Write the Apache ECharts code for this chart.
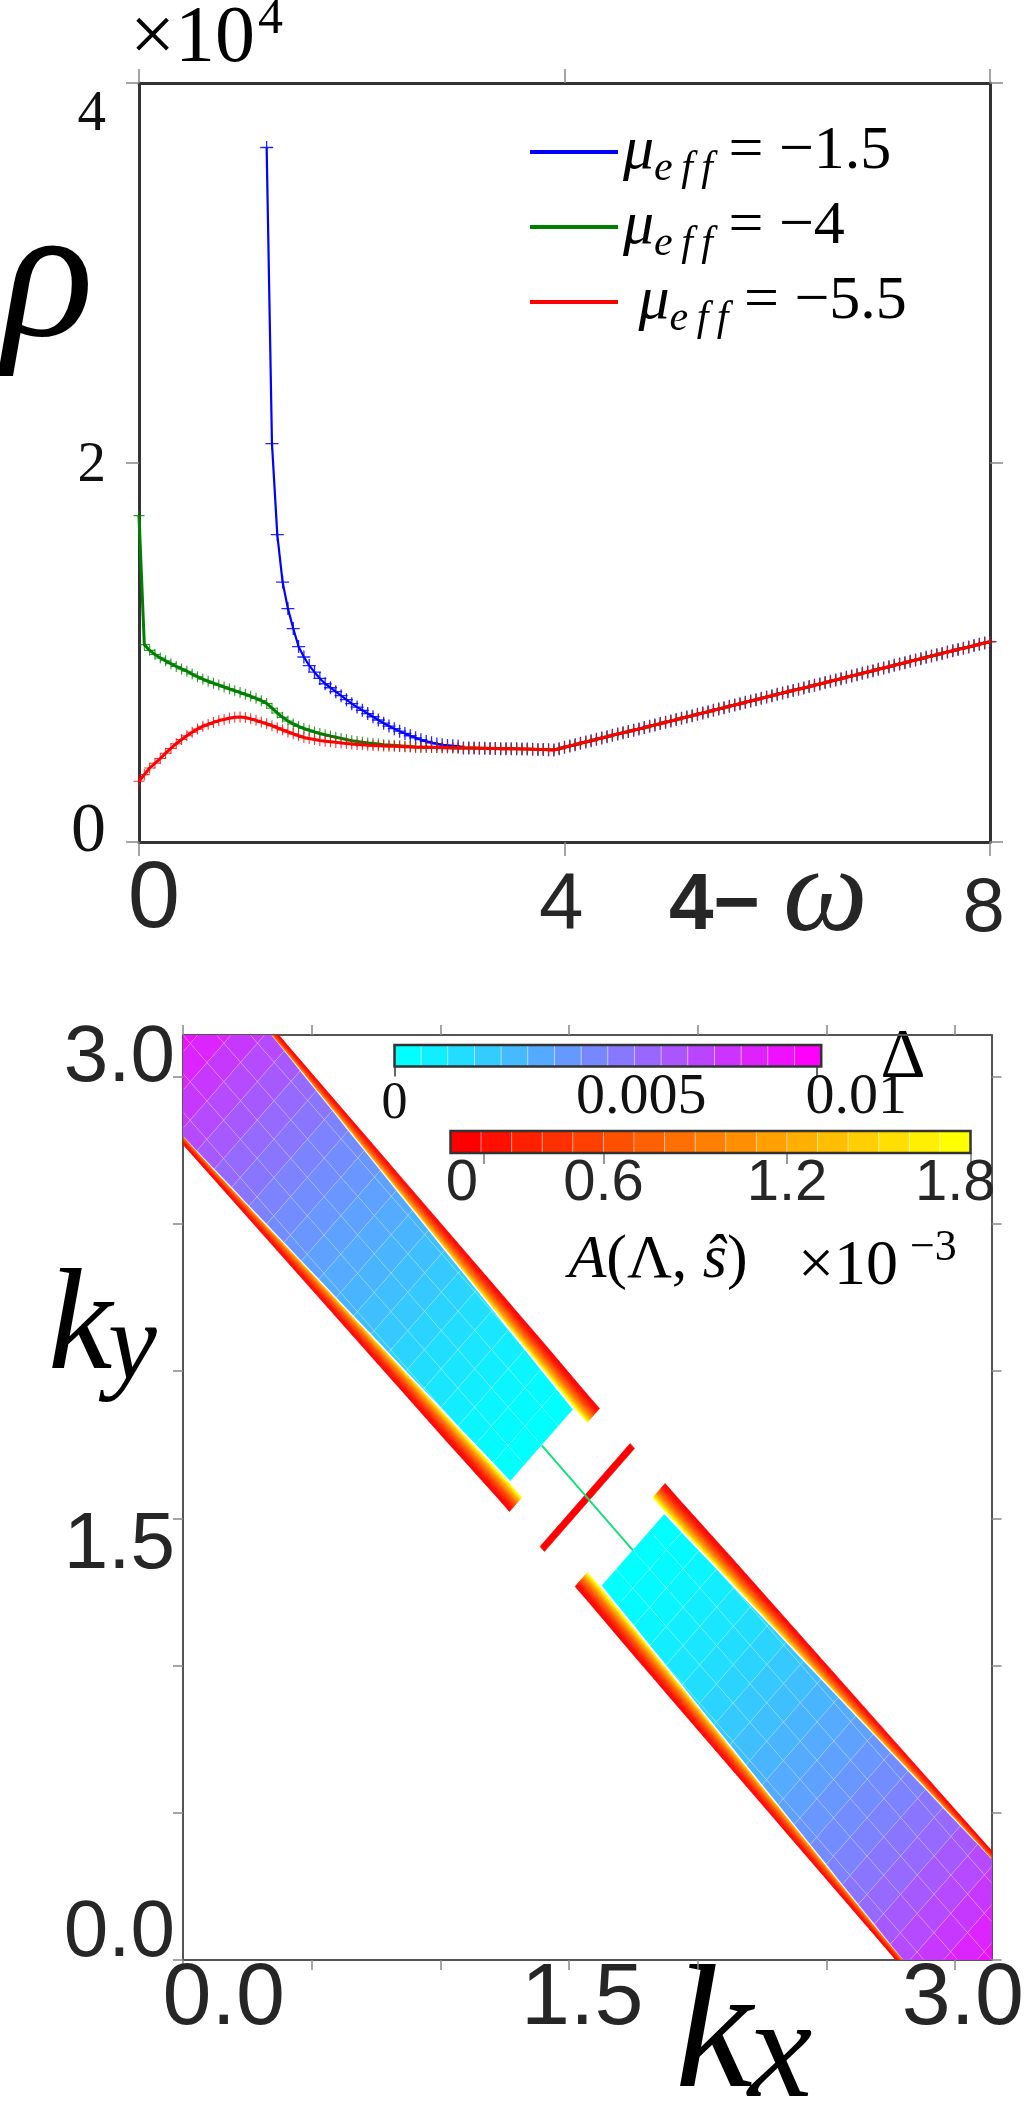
<!DOCTYPE html>
<html>
<head>
<meta charset="utf-8">
<script src="https://cdn.jsdelivr.net/npm/echarts@6/dist/echarts.min.js"></script>
<style>
  html, body { margin: 0; padding: 0; background: #fff; }
  #chart { width: 1027px; height: 2101px; }
</style>
</head>
<body>
<div id="chart"></div>
<script>
  // ---- top panel: rho(4-omega), values in units of 1e4, sampled every 0.05 ----
  const STEP = 0.05;
  const TAIL_START = 3.05;
  const redStart = 0;
  const redHead = [0.320, 0.355, 0.390, 0.415, 0.440, 0.468, 0.493, 0.518, 0.540, 0.560,
    0.578, 0.595, 0.610, 0.620, 0.630, 0.640, 0.646, 0.652, 0.657, 0.659,
    0.656, 0.649, 0.641, 0.632, 0.623, 0.613, 0.602, 0.591, 0.580, 0.570,
    0.560, 0.551, 0.545, 0.540, 0.535, 0.531, 0.528, 0.525, 0.522, 0.519,
    0.516, 0.514, 0.512, 0.510, 0.509, 0.507, 0.506, 0.505, 0.504, 0.503,
    0.502, 0.501, 0.500, 0.500, 0.499, 0.499, 0.498, 0.498, 0.497, 0.497, 0.496];
  const greenStart = 0;
  const greenHead = [1.72, 1.04, 1.01, 0.988, 0.970, 0.955, 0.940, 0.925, 0.912, 0.900,
    0.885, 0.871, 0.858, 0.847, 0.837, 0.827, 0.817, 0.807, 0.797, 0.788,
    0.778, 0.768, 0.757, 0.745, 0.730, 0.705, 0.680, 0.657, 0.638, 0.622,
    0.609, 0.598, 0.589, 0.580, 0.572, 0.565, 0.558, 0.552, 0.546, 0.540,
    0.534, 0.530, 0.526, 0.522, 0.519, 0.516, 0.513, 0.511, 0.509, 0.507,
    0.505, 0.503, 0.501, 0.500, 0.499, 0.498, 0.498, 0.497, 0.497, 0.496, 0.496];
  const blueStart = 1.2;
  const blueHead = [3.66, 2.10, 1.62, 1.37, 1.23, 1.125, 1.03, 0.975, 0.930, 0.895,
    0.862, 0.834, 0.813, 0.792, 0.771, 0.750, 0.729, 0.711, 0.694, 0.677,
    0.660, 0.643, 0.626, 0.611, 0.597, 0.584, 0.572, 0.560, 0.549, 0.539,
    0.530, 0.523, 0.517, 0.512, 0.509, 0.507, 0.505];
  // all three curves coincide from 3.05 to 8
  const sharedTail = [0.496, 0.495, 0.495, 0.494, 0.494, 0.493, 0.493, 0.492, 0.492, 0.491,
    0.491, 0.490, 0.490, 0.489, 0.488, 0.487, 0.486, 0.485,
    0.492, 0.499, 0.506, 0.513, 0.520, 0.527, 0.534, 0.541, 0.548, 0.555,
    0.562, 0.569, 0.576, 0.582, 0.589, 0.596, 0.603, 0.610, 0.617, 0.624,
    0.631, 0.638, 0.645, 0.652, 0.659, 0.666, 0.673, 0.680, 0.687, 0.694,
    0.701, 0.708, 0.715, 0.722, 0.729, 0.736, 0.743, 0.750, 0.757, 0.764,
    0.771, 0.778, 0.785, 0.792, 0.799, 0.805, 0.812, 0.819, 0.826, 0.833,
    0.840, 0.847, 0.854, 0.861, 0.868, 0.875, 0.882, 0.889, 0.896, 0.903,
    0.910, 0.917, 0.924, 0.931, 0.938, 0.945, 0.952, 0.959, 0.966, 0.973,
    0.980, 0.987, 0.994, 1.001, 1.008, 1.015, 1.021, 1.028, 1.035, 1.042,
    1.049, 1.056];
  const seriesNames = ['mu15', 'mu4', 'mu55'];
  const legendValues = ['−1.5', '−4', '−5.5'];

  // ---- bottom panel: band around kx+ky=pi, in band coords p=kx-ky, q=kx+ky-pi ----
  const rowEdges = [0.355, 0.485, 0.615, 0.745, 0.875, 1.005, 1.135, 1.265, 1.395, 1.525,
    1.655, 1.785, 1.915, 2.045, 2.175, 2.305, 2.435, 2.565, 2.695, 2.825, 2.955, 3.085, 3.1416];
  const halfWidth = [0.243, 0.248, 0.253, 0.259, 0.264, 0.269, 0.275, 0.280, 0.285, 0.291,
    0.296, 0.301, 0.307, 0.312, 0.317, 0.323, 0.328, 0.333, 0.339, 0.344, 0.349, 0.355, 0.357];
  const deltaRows = [0.0000, 0.0002, 0.0004, 0.0007, 0.0010, 0.0013, 0.0017, 0.0021, 0.0025, 0.0029,
    0.0033, 0.0037, 0.0041, 0.0045, 0.0049, 0.0054, 0.0059, 0.0065, 0.0071, 0.0078, 0.0086, 0.0093];
  const qGrid = [-0.393, -0.262, -0.131, 0, 0.131, 0.262, 0.393];
  const stripeEdges = [0.255].concat(rowEdges);
  const stripeInner = [0.255, 0.255, 0.259, 0.264, 0.269, 0.274, 0.279, 0.284, 0.289, 0.294,
    0.299, 0.304, 0.309, 0.314, 0.319, 0.325, 0.330, 0.335, 0.340, 0.344, 0.346, 0.350, 0.355, 0.357];
  const stripeOuter = [0.350, 0.350, 0.352, 0.354, 0.356, 0.357, 0.358, 0.359, 0.360, 0.361,
    0.362, 0.363, 0.364, 0.365, 0.366, 0.367, 0.368, 0.369, 0.370, 0.371, 0.373, 0.376, 0.380, 0.382];
  const stripePeak = [1.8, 1.8, 1.75, 1.7, 1.65, 1.6, 1.55, 1.5, 1.45, 1.4, 1.35, 1.3,
    1.25, 1.2, 1.15, 1.1, 1.0, 0.95, 0.9, 0.85, 0.8, 0.75, 0.7];
  const stripeProfile = [1.0, 0.82, 0.66, 0.52, 0.40, 0.29, 0.19, 0.10, 0.03, 0];
  const nodeBar = [-0.017, 0.017, -0.35, 0.35, 0];   // p0, p1, q0, q1, A
  const nodeLine = [[1.394, 1.748], [1.748, 1.391]];

  // ---- colour bars ----
  const cbDeltaRange = [0, 0.0101];
  const cbDeltaLevels = [0, 0.00067, 0.00133, 0.002, 0.00267, 0.00333, 0.004, 0.00467,
    0.00533, 0.006, 0.00667, 0.00733, 0.008, 0.00867, 0.00933, 0.01];
  const cbARange = [0.1, 1.8];
  const cbALevels = [0, 0.1125, 0.225, 0.3375, 0.45, 0.5625, 0.675, 0.7875, 0.9,
    1.0125, 1.125, 1.2375, 1.35, 1.4625, 1.575, 1.6875, 1.8];

  const SERIF = 'Liberation Serif';
  const SANS = 'Liberation Sans';
  const INK = '#262626';

  function pairs(start, head) {
    const a = head.map((v, i) => [+(start + i * STEP).toFixed(2), v]);
    return a.concat(sharedTail.map((v, i) => [+(TAIL_START + i * STEP).toFixed(2), v]));
  }

  // build band cells
  const deltaCells = [];
  [-1, 1].forEach(side => {
    for (let i = 0; i < rowEdges.length - 1; i++) {
      const pa = side * rowEdges[i], pb = side * rowEdges[i + 1];
      const wa = halfWidth[i], wb = halfWidth[i + 1];
      for (let j = 0; j < qGrid.length - 1; j++) {
        const loA = Math.max(qGrid[j], -wa), hiA = Math.min(qGrid[j + 1], wa);
        const loB = Math.max(qGrid[j], -wb), hiB = Math.min(qGrid[j + 1], wb);
        if (hiA <= loA && hiB <= loB) continue;
        deltaCells.push([pa, pb, loA, loB, Math.max(hiA, loA), Math.max(hiB, loB), deltaRows[i]]);
      }
    }
  });
  const stripeCells = [];
  [-1, 1].forEach(side => {
    for (let i = 0; i < stripeEdges.length - 1; i++) {
      const pa = side * stripeEdges[i], pb = side * stripeEdges[i + 1];
      const K = stripeProfile.length;
      [-1, 1].forEach(face => {
        for (let k = 0; k < K; k++) {
          const qa0 = stripeInner[i] + (stripeOuter[i] - stripeInner[i]) * k / K;
          const qa1 = stripeInner[i] + (stripeOuter[i] - stripeInner[i]) * (k + 1) / K;
          const qb0 = stripeInner[i + 1] + (stripeOuter[i + 1] - stripeInner[i + 1]) * k / K;
          const qb1 = stripeInner[i + 1] + (stripeOuter[i + 1] - stripeInner[i + 1]) * (k + 1) / K;
          stripeCells.push([pa, pb, face * qa0, face * qb0, face * qa1, face * qb1,
            stripePeak[i] * stripeProfile[k]]);
        }
      });
    }
  });
  stripeCells.push([nodeBar[0], nodeBar[1], nodeBar[2], nodeBar[2], nodeBar[3], nodeBar[3], nodeBar[4]]);

  const cbDeltaCells = cbDeltaLevels.map((v, i) => {
    const w = (cbDeltaRange[1] - cbDeltaRange[0]) / cbDeltaLevels.length;
    return [cbDeltaRange[0] + i * w, cbDeltaRange[0] + (i + 1) * w, v];
  });
  const cbACells = cbALevels.map((v, i) => {
    const w = (cbARange[1] - cbARange[0]) / cbALevels.length;
    return [cbARange[0] + i * w, cbARange[0] + (i + 1) * w, v];
  });

  function bandItem(stroke) {
    return function (params, api) {
      const pt = (p, q) => api.coord([(p + q + Math.PI) / 2, (q - p + Math.PI) / 2]);
      const pa = api.value(0), pb = api.value(1);
      const color = api.visual('color');
      return {
        type: 'polygon',
        shape: { points: [pt(pa, api.value(2)), pt(pb, api.value(3)), pt(pb, api.value(5)), pt(pa, api.value(4))] },
        style: { fill: color, stroke: stroke || color, lineWidth: stroke ? 0.7 : 0.6 }
      };
    };
  }
  function cbItem(params, api) {
    const a = api.coord([api.value(0), 1]), b = api.coord([api.value(1), 0]);
    return {
      type: 'rect',
      shape: { x: a[0], y: a[1], width: b[0] - a[0], height: b[1] - a[1] },
      style: { fill: api.visual('color'), stroke: 'rgba(255,255,255,0.35)', lineWidth: 1 }
    };
  }
  function frameItem(params, api) {
    const a = api.coord([api.value(0), 1]), b = api.coord([api.value(1), 0]);
    return {
      type: 'rect',
      shape: { x: a[0], y: a[1], width: b[0] - a[0], height: b[1] - a[1] },
      style: { fill: 'rgba(0,0,0,0)', stroke: '#333', lineWidth: 2.5 }
    };
  }
  // title text helper (rich style so the font family is applied)
  function label(text, x, y, size, opts) {
    opts = opts || {};
    const color = opts.color || '#000';
    return { type: 'text', x: x, y: y, style: {
      text: '{a|' + text + '}',
      rich: { a: { fontSize: size, fontFamily: opts.family || SERIF, fontStyle: opts.italic ? 'italic' : 'normal',
        fontWeight: opts.bold ? 'bold' : 'normal', fill: color, color: color } },
      align: opts.align || 'left', verticalAlign: 'middle',
      textAlign: opts.align || 'left', textVerticalAlign: 'middle' } };
  }

  const boxLine = { show: true, onZero: false, lineStyle: { color: '#333', width: 3 } };
  const boxLine2 = { show: true, onZero: false, lineStyle: { color: '#555', width: 2 } };
  const tick = (len, vals) => ({ show: true, inside: false, length: len, customValues: vals,
    lineStyle: { color: '#888', width: 1.5 } });
  const noLabel = { show: false };
  const crossSymbol = 'path://M0,5.4H12V6.6H0Z M5.4,0H6.6V12H5.4Z';

  const chart = echarts.init(document.getElementById('chart'));
  chart.setOption({
    animation: false,
    backgroundColor: '#fff',
    grid: [
      { left: 139, top: 83, width: 851, height: 759 },
      { left: 183, top: 1035, width: 816, height: 925 },
      { left: 394.5, top: 1045, width: 507, height: 21.5 },
      { left: 450.5, top: 1131, width: 520, height: 22 }
    ],
    xAxis: [
      { gridIndex: 0, type: 'value', min: 0, max: 8, position: 'bottom', axisLine: boxLine,
        axisTick: tick(14, [0, 4, 8]), splitLine: { show: false },
        axisLabel: { customValues: [0.14, 3.97, 7.94], margin: 12, color: INK, fontFamily: SANS,
          formatter: v => { const n = Math.round(v / 4) * 4; return '{t' + n + '|' + n + '}'; },
          rich: { t0: { fontSize: 94, fontFamily: SANS, color: INK },
                  t4: { fontSize: 80, fontFamily: SANS, color: INK, padding: [12, 0, 0, 0] },
                  t8: { fontSize: 76, fontFamily: SANS, color: INK, padding: [18, 0, 0, 0] } } } },
      { gridIndex: 0, type: 'value', min: 0, max: 8, position: 'top', axisLine: boxLine,
        axisTick: tick(14, [0, 4, 8]), splitLine: { show: false }, axisLabel: noLabel },
      { gridIndex: 1, type: 'value', min: 0, max: Math.PI, position: 'bottom', axisLine: boxLine2,
        axisTick: tick(10, [0, 0.5, 1, 1.5, 2, 2.5, 3]), splitLine: { show: false },
        axisLabel: { customValues: [0.158, 1.551, 3.03], margin: -4, color: INK, fontFamily: SANS, fontSize: 88,
          formatter: v => (Math.round(v / 1.5) * 1.5).toFixed(1) } },
      { gridIndex: 1, type: 'value', min: 0, max: Math.PI, position: 'top', axisLine: boxLine2,
        axisTick: tick(10, [0, 0.5, 1, 1.5, 2, 2.5, 3]), splitLine: { show: false }, axisLabel: noLabel },
      { gridIndex: 2, type: 'value', min: 0, max: 0.012, position: 'bottom', axisLine: { show: false },
        axisTick: { show: true, length: 10, customValues: [0, 0.01], lineStyle: { color: '#333', width: 1.5 } },
        splitLine: { show: false },
        axisLabel: { customValues: [0, 0.00584, 0.01093], margin: 2, color: '#111', fontFamily: SERIF,
          formatter: v => v < 0.001 ? '{s|0}' : (v < 0.008 ? '{b|0.005}' : '{b|0.01}'),
          rich: { s: { fontSize: 52, fontFamily: SERIF, color: '#111', padding: [10, 0, 0, 0] },
                  b: { fontSize: 58, fontFamily: SERIF, color: '#111' } } } },
      { gridIndex: 3, type: 'value', min: 0.1, max: 1.8, position: 'bottom', axisLine: { show: false },
        axisTick: { show: true, length: 11, customValues: [0.21, 0.6, 1.2, 1.8], lineStyle: { color: '#777', width: 1.5 } },
        splitLine: { show: false },
        axisLabel: { customValues: [0.137, 0.6, 1.2, 1.75], margin: 2, color: INK, fontFamily: SANS, fontSize: 58,
          formatter: v => v < 0.3 ? '0' : (v < 0.9 ? '0.6' : (v < 1.5 ? '1.2' : '1.8')) } }
    ],
    yAxis: [
      { gridIndex: 0, type: 'value', min: 0, max: 4, position: 'left', axisLine: boxLine,
        axisTick: tick(13, [0, 2, 4]), splitLine: { show: false },
        axisLabel: { customValues: [0.05, 1.98, 3.83], margin: 33, color: '#111', fontFamily: SERIF,
          formatter: v => { const n = Math.round(v / 2) * 2; return '{y' + n + '|' + n + '}'; },
          rich: { y0: { fontSize: 70, fontFamily: SERIF, color: '#111' },
                  y2: { fontSize: 57, fontFamily: SERIF, color: '#111' },
                  y4: { fontSize: 57, fontFamily: SERIF, color: '#111' } } } },
      { gridIndex: 0, type: 'value', min: 0, max: 4, position: 'right', axisLine: boxLine,
        axisTick: tick(13, [0, 2, 4]), splitLine: { show: false }, axisLabel: noLabel },
      { gridIndex: 1, type: 'value', min: 0, max: Math.PI, position: 'left', axisLine: boxLine2,
        axisTick: tick(10, [0, 0.5, 1, 1.5, 2, 2.5, 3]), splitLine: { show: false },
        axisLabel: { customValues: [0.088, 1.407, 3.06], margin: 8, color: INK, fontFamily: SANS, fontSize: 80,
          formatter: v => (Math.round(v / 1.5) * 1.5).toFixed(1) } },
      { gridIndex: 1, type: 'value', min: 0, max: Math.PI, position: 'right', axisLine: boxLine2,
        axisTick: tick(10, [0, 0.5, 1, 1.5, 2, 2.5, 3]), splitLine: { show: false }, axisLabel: noLabel },
      { gridIndex: 2, type: 'value', min: 0, max: 1, show: false },
      { gridIndex: 3, type: 'value', min: 0, max: 1, show: false }
    ],
    legend: {
      left: 525, top: 116, orient: 'vertical', icon: 'rect', itemWidth: 88, itemHeight: 4, itemGap: 6,
      selectedMode: false, data: seriesNames, itemStyle: { opacity: 1 },
      formatter: name => {
        const i = seriesNames.indexOf(name);
        return (i === 2 ? '{t| }' : '') + '{m|μ}{s|e\u2009f\u2009f}{t| = ' + legendValues[i] + '}';
      },
      textStyle: {
        fontFamily: SERIF,
        rich: {
          m: { fontFamily: SERIF, fontStyle: 'italic', fontSize: 62, lineHeight: 76, color: '#000', verticalAlign: 'middle' },
          s: { fontFamily: SERIF, fontStyle: 'italic', fontSize: 42, lineHeight: 46, color: '#000', verticalAlign: 'bottom' },
          t: { fontFamily: SERIF, fontSize: 62, lineHeight: 76, color: '#000', verticalAlign: 'middle' }
        }
      }
    },
    visualMap: [
      { type: 'continuous', show: false, seriesIndex: 3, dimension: 6, min: 0, max: 0.01,
        inRange: { color: ['#00ffff', '#ff00ff'] } },
      { type: 'continuous', show: false, seriesIndex: 4, dimension: 6, min: 0, max: 1.8,
        inRange: { color: ['#ff0000', '#ffff00'] } },
      { type: 'continuous', show: false, seriesIndex: 6, dimension: 2, min: 0, max: 0.01,
        inRange: { color: ['#00ffff', '#ff00ff'] } },
      { type: 'continuous', show: false, seriesIndex: 8, dimension: 2, min: 0, max: 1.8,
        inRange: { color: ['#ff0000', '#ffff00'] } }
    ],
    series: [
      { name: seriesNames[0], type: 'line', xAxisIndex: 0, yAxisIndex: 0, data: pairs(blueStart, blueHead),
        symbol: crossSymbol, symbolSize: 13, color: '#0000ff', lineStyle: { width: 2.2, color: '#0000ff' },
        itemStyle: { color: '#0000ff', opacity: 0.85 }, z: 2 },
      { name: seriesNames[1], type: 'line', xAxisIndex: 0, yAxisIndex: 0, data: pairs(greenStart, greenHead),
        symbol: crossSymbol, symbolSize: 11, color: '#008000', lineStyle: { width: 3, color: '#008000' },
        itemStyle: { color: '#008000', opacity: 0.8 }, z: 3 },
      { name: seriesNames[2], type: 'line', xAxisIndex: 0, yAxisIndex: 0, data: pairs(redStart, redHead),
        symbol: crossSymbol, symbolSize: 11, color: '#ff0000', lineStyle: { width: 3, color: '#ff0000' },
        itemStyle: { color: '#ff0000', opacity: 0.8 }, z: 4 },
      { type: 'custom', xAxisIndex: 2, yAxisIndex: 2, clip: true, data: deltaCells,
        renderItem: bandItem('rgba(255,255,255,0.22)'), z: 2 },
      { type: 'custom', xAxisIndex: 2, yAxisIndex: 2, clip: true, data: stripeCells,
        renderItem: bandItem(null), z: 3 },
      { type: 'line', xAxisIndex: 2, yAxisIndex: 2, data: nodeLine, symbol: 'none',
        lineStyle: { color: '#14e07a', width: 2 }, z: 4 },
      { type: 'custom', xAxisIndex: 4, yAxisIndex: 4, data: cbDeltaCells, renderItem: cbItem, z: 5 },
      { type: 'custom', xAxisIndex: 4, yAxisIndex: 4, data: [cbDeltaRange], renderItem: frameItem, z: 6 },
      { type: 'custom', xAxisIndex: 5, yAxisIndex: 5, data: cbACells, renderItem: cbItem, z: 5 },
      { type: 'custom', xAxisIndex: 5, yAxisIndex: 5, data: [cbARange], renderItem: frameItem, z: 6 }
    ],
    graphic: [
      label('×10', 130, 40, 80),
      label('4', 258, 20, 50),
      label('ρ', 48, 285, 190, { italic: true, align: 'center' }),
      label('4−', 669, 907, 80, { family: SANS, bold: true, color: INK }),
      label('ω', 783, 898, 120, { italic: true, color: INK }),
      label('k', 48, 1330, 145, { italic: true }),
      label('y', 108, 1350, 110, { italic: true }),
      label('k', 675, 2040, 175, { italic: true }),
      label('x', 748, 2058, 145, { italic: true }),
      label('Δ', 903, 1059, 70, { align: 'center' }),
      { type: 'text', x: 658, y: 1261, style: { text: '{i|A}{r|(Λ, }{i|ŝ}{r|)}', fill: '#000', align: 'center', verticalAlign: 'middle', textAlign: 'center', textVerticalAlign: 'middle',
          rich: { i: { fontFamily: SERIF, fontStyle: 'italic', fontSize: 62, fill: '#000' }, r: { fontFamily: SERIF, fontSize: 62, fill: '#000' } } } },
      label('×10', 798, 1267, 64),
      label('−3', 910, 1248, 44)
    ]
  });
</script>
</body>
</html>
